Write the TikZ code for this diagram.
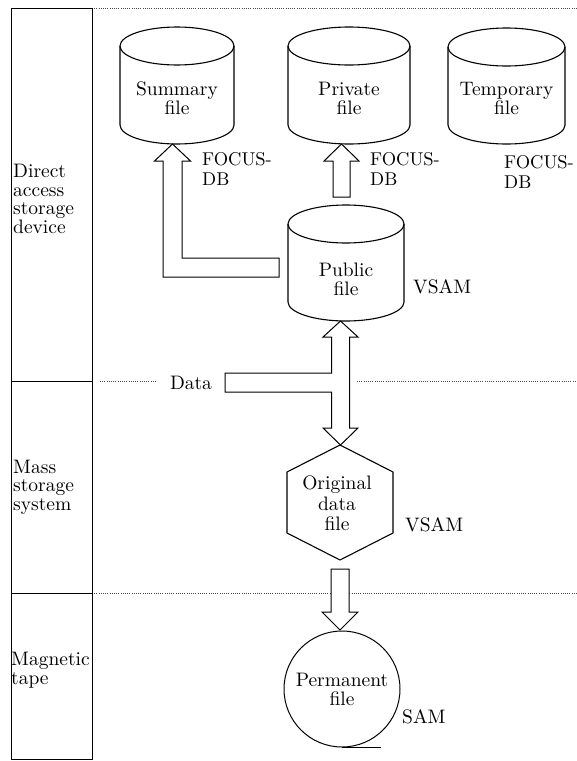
\documentclass[tikz,border=0pt]{standalone}
\usepackage{fontspec}
\setmainfont{lmroman10-regular.otf}
\usetikzlibrary{calc}

% drum-shaped file symbol: #1 centre x, #2 top-ellipse centre y, #3 lower end of the sides, #4 x radius, #5 y radius
\newcommand\drum[5]{%
  \fill[white] (#1-#4,-#2) -- (#1-#4,-#3)
    arc[start angle=180,end angle=360,x radius=#4,y radius=#5] -- (#1+#4,-#2)
    arc[start angle=0,end angle=180,x radius=#4,y radius=#5] -- cycle;
  \draw[line width=1.1pt] (#1,-#2) ellipse[x radius=#4,y radius=#5];
  \draw[line width=1.1pt] (#1-#4,-#2) -- (#1-#4,-#3)
    arc[start angle=180,end angle=360,x radius=#4,y radius=#5] -- (#1+#4,-#2);
}

\begin{document}
\begin{tikzpicture}[x=1pt,y=1pt,
  every node/.style={inner sep=0pt},
  txt/.style={font=\fontsize{19.5}{19}\selectfont, align=center},
  layer/.style={font=\fontsize{19.5}{18.5}\selectfont, align=left, anchor=west},
  tag/.style={font=\fontsize{19.5}{19}\selectfont, anchor=west},
  dbtag/.style={font=\fontsize{18.5}{20}\selectfont, align=left, anchor=west},
  outline/.style={draw, line width=1.1pt, fill=white, line join=miter},
  blockarrow/.style={draw, line width=1pt, fill=white, line join=miter},
  frame/.style={line width=1pt},
  guide/.style={line width=0.6pt, black!70, dash pattern=on 0.9pt off 1.3pt},
]
\useasboundingbox (0,0) rectangle (577,-761);

% ---- layer boundaries
\draw[guide] (92,-8) -- (577,-8);
\draw[guide] (100,-381) -- (156,-381);
\draw[guide] (357,-381) -- (577,-381);
\draw[guide] (92,-593) -- (577,-593);

% ---- layer column
\draw[frame] (11,-8) rectangle (92,-759);
\draw[frame] (11,-381) -- (92,-381);
\draw[frame] (11,-593) -- (92,-593);
\node[layer] (dasd) at (13,-199) {Direct\\access\\storage\\device};
\node[layer] (mss) at (13,-487) {Mass\\storage\\system};
\node[layer] (tape) at (11,-670) {Magnetic\\tape};

% ---- direct access files
\drum{177}{46}{125}{57}{19}
\node[txt] (summary) at (177,-98) {Summary\\file};
\drum{349}{46}{125}{61}{19}
\node[txt] (private) at (349,-98) {Private\\file};
\drum{506.5}{47}{125}{58.5}{19}
\node[txt] (temporary) at (506.5,-99) {Temporary\\file};
\drum{346}{224}{302}{58}{19}
\node[txt] (public) at (346,-279) {Public\\file};

\node[dbtag] (db1) at (202,-168.5) {FOCUS-\\DB};
\node[dbtag] (db2) at (370,-168.5) {FOCUS-\\DB};
\node[dbtag] (db3) at (504,-172) {FOCUS-\\DB};
\node[tag] (vsam1) at (413,-287) {VSAM};

% ---- entry points of the transfer arrows
\coordinate (summary-in) at (172.5,-144);
\coordinate (private-in) at (341.5,-144);
\coordinate (public-in) at (340.5,-321);
\coordinate (tape-out) at (340,-569);

% public -> summary (L-shaped)
\draw[blockarrow] (summary-in) -- ++(18,-17) -- ++(-8.5,0) -- ++(0,-97)
  -- ++(97,0) -- ++(0,-19) -- ++(-116,0) -- ++(0,116) -- ++(-8.5,0) -- cycle;

% public -> private
\draw[blockarrow] (private-in) -- ++(17.5,-17) -- ++(-9,0) -- ++(0,-36)
  -- ++(-17,0) -- ++(0,36) -- ++(-9,0) -- cycle;

% data in, public <-> original data file
\draw[blockarrow] (public-in) -- ++(17.5,-16) -- ++(-8.5,0) -- ++(0,-91)
  -- ++(8.5,0) -- ++(-17.5,-17) -- ++(-17.5,17) -- ++(8.5,0) -- ++(0,36)
  -- ++(-106.5,0) -- ++(0,19) -- ++(106.5,0) -- ++(0,36) -- ++(-8.5,0) -- cycle;
\node[tag, anchor=center] (data) at (191,-383) {Data};

% ---- mass storage file
\draw[outline] (340,-445) -- (393,-472) -- (393,-533) -- (340,-560)
  -- (287,-533) -- (287,-472) -- cycle;
\node[txt, font=\fontsize{19.5}{20.5}\selectfont] (original) at (337,-503.5) {Original\\data\\file};
\node[tag] (vsam2) at (405,-525) {VSAM};

% original -> permanent
\draw[blockarrow] (tape-out) ++(-9,0) -- ++(18,0) -- ++(0,-43) -- ++(9,0)
  -- ++(-18,-18) -- ++(-18,18) -- ++(9,0) -- cycle;

% ---- tape file
\node[txt, circle, draw, line width=1pt, fill=white, minimum size=116pt] (permanent)
  at (342,-689) {Permanent\\file};
\draw[line width=1pt] (permanent.south) -- ++(39,0);
\node[tag] (sam) at (402,-717) {SAM};
\end{tikzpicture}
\end{document}
